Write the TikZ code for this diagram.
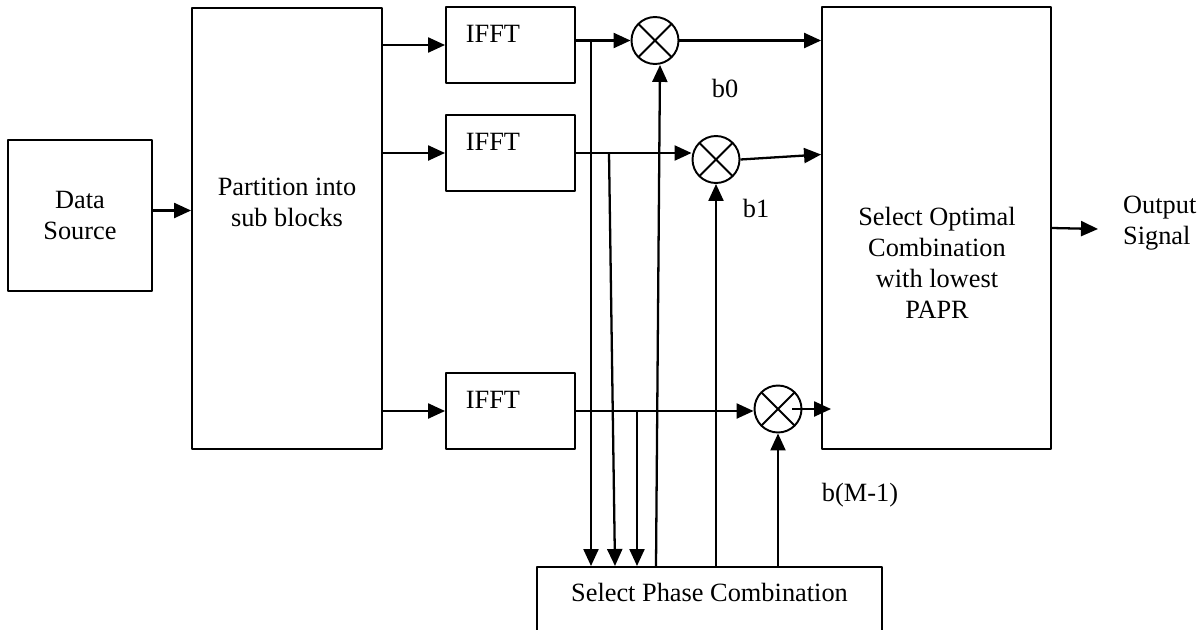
\documentclass[tikz,border=0pt]{standalone}
\usepackage{fontspec}
\setmainfont{Liberation Serif}
\usetikzlibrary{arrows.meta}
\begin{document}
\begin{tikzpicture}[x=0.02cm,y=-0.02cm,>={Triangle[length=0.34cm,width=0.3cm]},line width=1.3pt,line join=round,
	every node/.style={font=\fontsize{15}{17.6}\selectfont},
	blk/.style={draw,inner sep=0pt,line width=1.1pt},
	txt/.style={inner sep=0pt,align=center},
	mult/.style={draw,circle,minimum size=0.94cm,inner sep=0pt,line width=1.1pt,path picture={
		\draw (path picture bounding box.north west)--(path picture bounding box.south east)
		(path picture bounding box.north east)--(path picture bounding box.south west);}}]
			\useasboundingbox (0,0) rectangle (1200,629);
			\clip (0,0) rectangle (1200,629);
			\node[blk,minimum width=2.88cm,minimum height=3.02cm,align=center] (src) at (80,215.5) {Data\\Source};
			\node[blk,minimum width=3.8cm,minimum height=8.82cm] (part) at (287,228.5) {};
			\node[txt] (partt) at (287,202) {Partition into\\sub blocks};
			\node[blk,minimum width=2.58cm,minimum height=1.52cm] (ifft1) at (510.5,45) {};
			\node[blk,minimum width=2.58cm,minimum height=1.52cm] (ifft2) at (510.5,153) {};
			\node[blk,minimum width=2.58cm,minimum height=1.52cm] (ifft3) at (510.5,411) {};
			\node[txt] (ifftt1) at (493,34) {IFFT};
			\node[txt] (ifftt2) at (493,142) {IFFT};
			\node[txt] (ifftt3) at (493,400) {IFFT};
			\node[blk,minimum width=4.58cm,minimum height=8.84cm] (sel) at (936.5,228) {};
			\node[txt] (selt) at (937,263) {Select Optimal\\Combination\\with lowest\\PAPR};
			\node[txt,anchor=west,align=left] (out) at (1122,223) {Output\\Signal};
			\node[blk,minimum width=6.9cm,minimum height=1.6cm,anchor=north] (phase) at (709.5,566) {};
			\node[txt] (phaset) at (709.5,592) {Select Phase Combination};
			\node[mult] (m0) at (655,40.5) {};
			\node[mult] (m1) at (716,159.5) {};
			\node[mult] (m2) at (778,409) {};
			\node[txt] (b0) at (725,88) {b0};
			\node[txt] (b1) at (756,208) {b1};
			\node[txt] (bm) at (860,495) {b(M-1)};
			\coordinate (br1) at (591,40.5);
			\coordinate (br2) at (609,153);
			\coordinate (br3) at (637,411);
			\coordinate (outp) at (1098,229);
			\draw[->] ([yshift=0.1cm]src.east)--([yshift=0.1cm]src.east -| part.west);
			\draw[->] (ifft1.west -| part.east)--(ifft1.west);
			\draw[->] (ifft2.west -| part.east)--(ifft2.west);
			\draw[->] (ifft3.west -| part.east)--(ifft3.west);
			\draw[->] (ifft1.east |- m0.west)--(m0.west);
			\draw[->] (ifft2.east)--(ifft2.east -| m1.west);
			\draw[->] (ifft3.east)--(ifft3.east -| m2.west);
			\draw[->] (m0.east)--(m0.east -| sel.west);
			\draw[->] (m1.east)--([yshift=0.1cm]m1.east -| sel.west);
			\draw[->] ([xshift=0.28cm]m2.center)--([xshift=0.2cm]m2.center -| sel.west);
			\draw[->] (sel.east)--(outp);
			\draw[->] (br1)--(br1 |- phase.north);
			\draw[->] (br2)--([xshift=0.12cm]br2 |- phase.north);
			\draw[->] (br3)--(br3 |- phase.north);
			\draw[->] ([xshift=0.02cm]m0.south |- phase.north)--([xshift=0.1cm]m0.south);
			\draw[->] (m1.south |- phase.north)--(m1.south);
			\draw[->] (m2.south |- phase.north)--(m2.south);
		\end{tikzpicture}
\end{document}
